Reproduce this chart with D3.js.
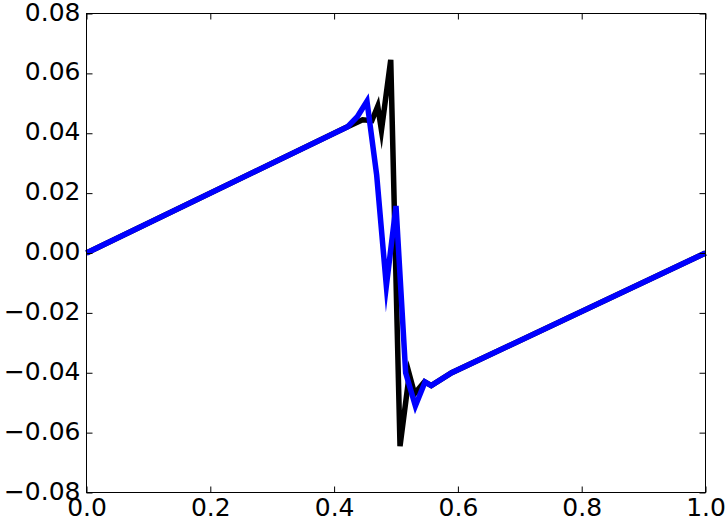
<!DOCTYPE html>
<html>
<head>
<meta charset="utf-8">
<script src="https://cdn.jsdelivr.net/npm/d3@7"></script>
<style>
  body { margin: 0; background: #fff; }
  svg { display: block; }
</style>
</head>
<body>
<svg id="chart"></svg>
<script>
// values
const blackX = [0, 0.42, 0.446, 0.461, 0.4705, 0.4765, 0.4915, 0.5065, 0.5215, 0.530, 0.546, 0.557, 0.59, 1];
const blackY = [0, 0.042, 0.0445, 0.0442, 0.049, 0.041, 0.0645, -0.0645, -0.0405, -0.047, -0.043, -0.0443, -0.040, 0];

const blueX = [0, 0.4219, 0.4375, 0.4531, 0.4688, 0.4844, 0.5, 0.5156, 0.5313, 0.5469, 0.557, 0.59, 1];
const blueY = [0, 0.0422, 0.0455, 0.0507, 0.026, -0.011, 0.0157, -0.040, -0.0511, -0.0431, -0.0443, -0.040, 0];

const xTicks = [0, 0.2, 0.4, 0.6, 0.8, 1.0];
const yTicks = [-0.08, -0.06, -0.04, -0.02, 0, 0.02, 0.04, 0.06, 0.08];

const width = 726, height = 521;
const margin = { top: 13.5, right: 20.5, bottom: 28.5, left: 86.5 };
const fontSize = 25;

const svg = d3.select("#chart")
  .attr("width", width)
  .attr("height", height);

const scaleX = d3.scaleLinear()
  .domain([0, 1])
  .range([margin.left, width - margin.right]);

const scaleY = d3.scaleLinear()
  .domain([-0.08, 0.08])
  .range([height - margin.bottom, margin.top]);

const line = d3.line()
  .x(d => scaleX(d[0]))
  .y(d => scaleY(d[1]));

const series = [
  { color: "#000000", points: d3.zip(blackX, blackY) },
  { color: "#0000ff", points: d3.zip(blueX, blueY) },
];

svg.append("g")
  .selectAll("path")
  .data(series)
  .join("path")
  .attr("fill", "none")
  .attr("stroke", d => d.color)
  .attr("stroke-width", 5.5)
  .attr("stroke-linejoin", "miter")
  .attr("stroke-miterlimit", 10)
  .attr("d", d => line(d.points));

// ticks inward on all four sides, classic style
const tickLen = 6;
const fmtX = d3.format(".1f");
const fmtY = d3.format(".2f");

const styleText = g => g.selectAll("text")
  .attr("font-size", fontSize)
  .attr("font-family", "DejaVu Sans")
  .attr("fill", "#000");

svg.append("g")
  .attr("transform", `translate(0,${height - margin.bottom})`)
  .call(d3.axisBottom(scaleX).tickValues(xTicks).tickFormat(fmtX)
    .tickSizeInner(-tickLen).tickSizeOuter(0).tickPadding(6))
  .call(g => g.select(".domain").remove())
  .call(g => g.selectAll(".tick line").attr("stroke", "#000"))
  .call(styleText);

svg.append("g")
  .attr("transform", `translate(0,${margin.top})`)
  .call(d3.axisTop(scaleX).tickValues(xTicks).tickFormat("")
    .tickSizeInner(-tickLen).tickSizeOuter(0))
  .call(g => g.select(".domain").remove())
  .call(g => g.selectAll(".tick line").attr("stroke", "#000"));

svg.append("g")
  .attr("transform", `translate(${margin.left},0)`)
  .call(d3.axisLeft(scaleY).tickValues(yTicks).tickFormat(fmtY)
    .tickSizeInner(-tickLen).tickSizeOuter(0).tickPadding(6))
  .call(g => g.select(".domain").remove())
  .call(g => g.selectAll(".tick line").attr("stroke", "#000"))
  .call(styleText)
  .call(g => g.selectAll("text").attr("dy", "0.26em"));

svg.append("g")
  .attr("transform", `translate(${width - margin.right},0)`)
  .call(d3.axisRight(scaleY).tickValues(yTicks).tickFormat("")
    .tickSizeInner(-tickLen).tickSizeOuter(0))
  .call(g => g.select(".domain").remove())
  .call(g => g.selectAll(".tick line").attr("stroke", "#000"));

// frame
svg.append("rect")
  .attr("x", margin.left)
  .attr("y", margin.top)
  .attr("width", width - margin.left - margin.right)
  .attr("height", height - margin.top - margin.bottom)
  .attr("fill", "none")
  .attr("stroke", "#000")
  .attr("stroke-width", 1);
</script>
</body>
</html>
